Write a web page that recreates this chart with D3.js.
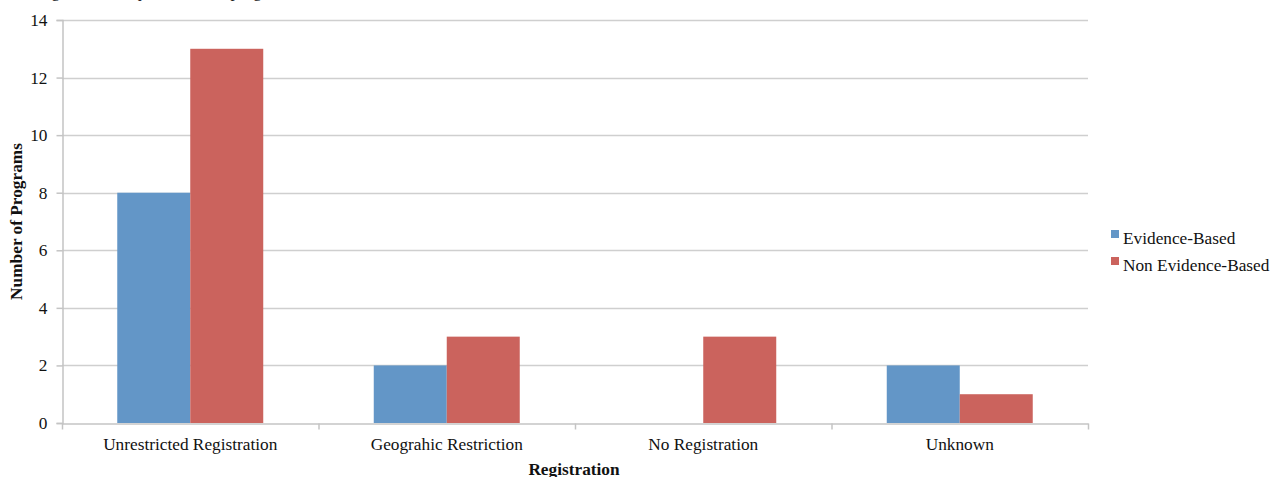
<!DOCTYPE html>
<html>
<head>
<meta charset="utf-8">
<script src="https://cdn.jsdelivr.net/npm/d3@7"></script>
<style>
  html, body { margin: 0; padding: 0; background: #fff; }
  svg { display: block; }
  svg text { font-family: "Liberation Serif", "Times New Roman", Times, serif !important; }
</style>
</head>
<body>
<svg id="chart" width="1271" height="477"></svg>
<script>
// Program counts by registration type
const categories = ["Unrestricted Registration", "Geograhic Restriction", "No Registration", "Unknown"];
const seriesNames = ["Evidence-Based", "Non Evidence-Based"];
const evidenceBased = [8, 2, 0, 2];
const nonEvidenceBased = [13, 3, 3, 1];
const yTicks = [0, 2, 4, 6, 8, 10, 12, 14];
const colors = ["#6396c7", "#cb635d"];

const seriesValues = [evidenceBased, nonEvidenceBased];

const svg = d3.select("#chart");
const plot = { left: 62, right: 1088, top: 20, bottom: 423 };
const fontSize = 17.3;

const y = d3.scaleLinear().domain([0, 14]).range([plot.bottom, plot.top]);
const x0 = d3.scaleBand().domain(categories).range([plot.left, plot.right]).padding(0);
const x1 = d3.scaleBand().domain(seriesNames).range([0, x0.bandwidth()])
  .paddingInner(0).paddingOuter(0.757);

// Caption line above the chart (runs off the top edge)
svg.append("text")
  .attr("x", 2).attr("y", -3)
  .attr("font-size", 17).attr("fill", "#222")
  .text("User registration requirement for program access.");

// Horizontal gridlines
svg.append("g").selectAll("line").data(yTicks.filter(d => d > 0)).join("line")
  .attr("x1", plot.left).attr("x2", plot.right)
  .attr("y1", d => Math.round(y(d)) + 0.5).attr("y2", d => Math.round(y(d)) + 0.5)
  .attr("stroke", "#cfcfcf").attr("stroke-width", 1.5);

// Y axis
const yAxis = svg.append("g")
  .attr("transform", `translate(${plot.left + 0.5},0)`)
  .call(d3.axisLeft(y).tickValues(yTicks).tickSize(6).tickPadding(9).tickFormat(d3.format("d")));
yAxis.select(".domain").attr("stroke", "#c4c4c4").attr("stroke-width", 1.5);
yAxis.selectAll(".tick line").attr("stroke", "#c4c4c4").attr("stroke-width", 1.5);
yAxis.selectAll(".tick text").attr("font-size", fontSize).attr("fill", "#111");

// Bars
const groups = svg.append("g").selectAll("g").data(categories).join("g")
  .attr("transform", d => `translate(${x0(d)},0)`);
groups.selectAll("rect")
  .data((c, i) => seriesNames.map((s, j) => ({ s, v: seriesValues[j][i], j })))
  .join("rect")
  .attr("x", d => x1(d.s))
  .attr("width", x1.bandwidth())
  .attr("y", d => y(d.v))
  .attr("height", d => y(0) - y(d.v))
  .attr("fill", d => colors[d.j]);

// X axis
const xAxis = svg.append("g")
  .attr("transform", `translate(0,${plot.bottom + 0.5})`)
  .call(d3.axisBottom(x0).tickSize(0).tickPadding(14));
xAxis.select(".domain").attr("stroke", "#c4c4c4").attr("stroke-width", 1.5);
xAxis.selectAll(".tick text").attr("font-size", fontSize).attr("fill", "#111");
// Boundary ticks between categories
const bounds = categories.map(c => x0(c)).concat([plot.right]);
xAxis.selectAll(".bound").data(bounds).join("line").attr("class", "bound")
  .attr("x1", d => d + 0.5).attr("x2", d => d + 0.5)
  .attr("y1", 0).attr("y2", 6)
  .attr("stroke", "#c4c4c4").attr("stroke-width", 1.5);

// Axis titles
svg.append("text")
  .attr("x", (plot.left + plot.right) / 2 - 1).attr("y", 475)
  .attr("text-anchor", "middle").attr("font-size", fontSize).attr("font-weight", "bold")
  .attr("fill", "#111").text("Registration");
svg.append("text")
  .attr("transform", `translate(22,${(plot.top + plot.bottom) / 2}) rotate(-90)`)
  .attr("text-anchor", "middle").attr("font-size", fontSize).attr("font-weight", "bold")
  .attr("fill", "#111").text("Number of Programs");

// Legend
const legend = svg.append("g").attr("transform", "translate(1111,238)");
const items = legend.selectAll("g").data(seriesNames).join("g")
  .attr("transform", (d, i) => `translate(0,${i * 27})`);
items.append("rect").attr("x", 0).attr("y", -8).attr("width", 8).attr("height", 8)
  .attr("fill", (d, i) => colors[i]);
items.append("text").attr("x", 12).attr("y", 0).attr("dy", "0.32em")
  .attr("font-size", fontSize).attr("fill", "#111").text(d => d);
</script>
</body>
</html>
